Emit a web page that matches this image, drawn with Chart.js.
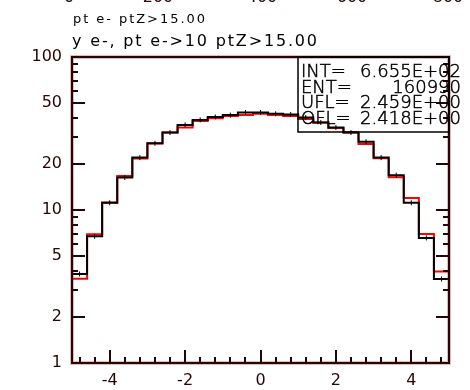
<!DOCTYPE html>
<html>
<head>
<meta charset="utf-8">
<script src="https://cdn.jsdelivr.net/npm/chart.js@4.4.0/dist/chart.umd.min.js"></script>
<style>
  html, body { margin: 0; padding: 0; background: #fff; }
  canvas { display: block; }
</style>
</head>
<body>
<canvas id="ye_hist" width="470" height="390"></canvas>
<script>
// binning of the y e- histogram
const xMin = -5
const xMax = 5
const binWidth = 0.4

// bin contents, 25 bins from -5 to 5
const blackCounts = [3.82, 6.73, 11.15, 16.3, 22.0, 27.3, 32.1, 36.0, 38.8, 40.6, 41.7, 43.4, 43.4,
  42.5, 42.1, 40.2, 37.3, 34.6, 32.1, 27.9, 22.0, 16.9, 11.15, 6.57, 3.54]
const redCounts = [3.56, 6.94, 11.2, 16.7, 21.7, 27.2, 32.1, 34.6, 38.2, 39.8, 41.2, 41.8, 42.6,
  41.7, 41.2, 39.3, 37.3, 34.3, 32.1, 27.0, 21.8, 16.4, 12.0, 6.98, 3.97]

const xTickLabels = [-4, -2, 0, 2, 4]
const yTickLabels = [1, 2, 5, 10, 20, 50, 100]
const yMinorTicks = [3, 4, 6, 7, 8, 9, 30, 40, 60, 70, 80, 90]

const titleTop = 'pt e- ptZ>15.00'
const titleMain = 'y e-, pt e->10 ptZ>15.00'
const statNames = ['INT=', 'ENT=', 'UFL=', 'OFL=']
const statValues = ['6.655E+02', '160990', '2.459E+00', '2.418E+00']
// bottom of the x labels of the pad above, cut by the page edge
const upperAxisLabels = ['0', '200', '400', '600', '800']
const upperAxisX = [69, 158, 262, 352, 448]

const axisColor = '#2a0404'

// histogram outline: one point per lower bin edge, plus the last upper edge
const toSteps = counts => counts
  .map((c, i) => ({x: xMin + i * binWidth, y: c}))
  .concat([{x: xMax, y: counts[counts.length - 1]}])

const toCenters = counts => counts.map((c, i) => ({x: xMin + (i + 0.5) * binWidth, y: c}))

const spaced = (ctx, text, x, y, width) => {
  ctx.letterSpacing = '0px'
  const natural = ctx.measureText(text).width
  ctx.letterSpacing = ((width - natural) / (text.length - 1)).toFixed(2) + 'px'
  ctx.fillText(text, x, y)
  ctx.letterSpacing = '0px'
}

// thin lettering, darkened with a hairline outline
const thinText = (ctx, text, x, y) => {
  ctx.fillText(text, x, y)
  ctx.strokeText(text, x, y)
}

const framePlugin = {
  id: 'frame',
  afterDatasetsDraw(chart) {
    const {ctx, chartArea: a, scales: {x, y}} = chart
    ctx.save()

    // frame
    ctx.strokeStyle = 'rgba(150, 30, 30, 0.3)'
    ctx.lineWidth = 4
    ctx.strokeRect(a.left, a.top, a.right - a.left, a.bottom - a.top)
    ctx.strokeStyle = axisColor
    ctx.lineWidth = 2
    ctx.strokeRect(a.left, a.top, a.right - a.left, a.bottom - a.top)

    // y ticks on both sides
    ctx.lineWidth = 2
    ctx.beginPath()
    const yTick = (v, len) => {
      const py = Math.round(y.getPixelForValue(v))
      ctx.moveTo(a.left, py); ctx.lineTo(a.left + len, py)
      ctx.moveTo(a.right, py); ctx.lineTo(a.right - len, py)
    }
    yTickLabels.forEach(v => yTick(v, 13))
    yMinorTicks.forEach(v => yTick(v, 6))

    // x ticks every 0.4, long ones at the labels
    for (let k = 0; k <= 24; k++) {
      const v = -4.8 + k * 0.4
      const major = xTickLabels.some(t => Math.abs(t - v) < 1e-6)
      const px = Math.round(x.getPixelForValue(v))
      ctx.moveTo(px, a.bottom); ctx.lineTo(px, a.bottom - (major ? 13 : 6))
    }
    ctx.stroke()

    ctx.textBaseline = 'alphabetic'

    // statistics box
    ctx.strokeStyle = '#000'
    ctx.lineWidth = 1.5
    ctx.strokeRect(298, a.top, a.right - 298, 132 - a.top)
    ctx.fillStyle = '#000'
    ctx.lineWidth = 0.5
    ctx.font = '200 18px "DejaVu Sans"'
    statNames.forEach((name, i) => {
      const by = 77 + i * 15.5
      ctx.textAlign = 'left'
      thinText(ctx, name, 301, by)
      ctx.textAlign = 'right'
      thinText(ctx, statValues[i], 461, by)
    })

    // titles
    ctx.textAlign = 'left'
    ctx.font = '13px "DejaVu Sans"'
    spaced(ctx, titleTop, 73, 23, 132)
    ctx.font = '16px "DejaVu Sans"'
    spaced(ctx, titleMain, 72, 46, 245)

    // labels of the pad above
    ctx.fillStyle = axisColor
    ctx.textAlign = 'center'
    ctx.font = '16px "DejaVu Sans"'
    upperAxisLabels.forEach((t, i) => ctx.fillText(t, upperAxisX[i], 2))

    ctx.restore()
  }
}

const tickFont = {family: 'DejaVu Sans', size: 16}

new Chart(document.getElementById('ye_hist').getContext('2d'), {
  type: 'line',
  data: {
    datasets: [
      {
        data: toCenters(blackCounts),
        showLine: false,
        pointStyle: 'line',
        rotation: 90,
        radius: 2.5,
        borderColor: '#000',
        borderWidth: 1,
        order: 0
      },
      {
        data: toSteps(blackCounts),
        stepped: 'before',
        borderColor: '#000',
        borderWidth: 2,
        pointRadius: 0,
        fill: false,
        order: 1
      },
      {
        data: toSteps(redCounts),
        stepped: 'before',
        borderColor: '#ff0000',
        borderWidth: 2,
        pointRadius: 0,
        fill: false,
        order: 2
      }
    ]
  },
  options: {
    responsive: false,
    animation: false,
    devicePixelRatio: 1,
    layout: {padding: {top: 57, right: 21, left: 0, bottom: 0}},
    plugins: {legend: {display: false}, tooltip: {enabled: false}},
    scales: {
      x: {
        type: 'linear',
        min: xMin,
        max: xMax,
        grid: {display: false, drawTicks: false},
        border: {display: false},
        afterBuildTicks: s => { s.ticks = xTickLabels.map(v => ({value: v})) },
        afterFit: s => { s.height = 27 },
        ticks: {color: axisColor, font: tickFont, padding: 8, maxRotation: 0, autoSkip: false,
          callback: v => String(v)}
      },
      y: {
        type: 'logarithmic',
        min: 1,
        max: 100,
        grid: {display: false, drawTicks: false},
        border: {display: false},
        afterBuildTicks: s => { s.ticks = yTickLabels.map(v => ({value: v})) },
        afterFit: s => { s.width = 72 },
        ticks: {color: axisColor, font: tickFont, padding: 10, autoSkip: false,
          callback: v => String(v)}
      }
    }
  },
  plugins: [framePlugin]
})
</script>
</body>
</html>
